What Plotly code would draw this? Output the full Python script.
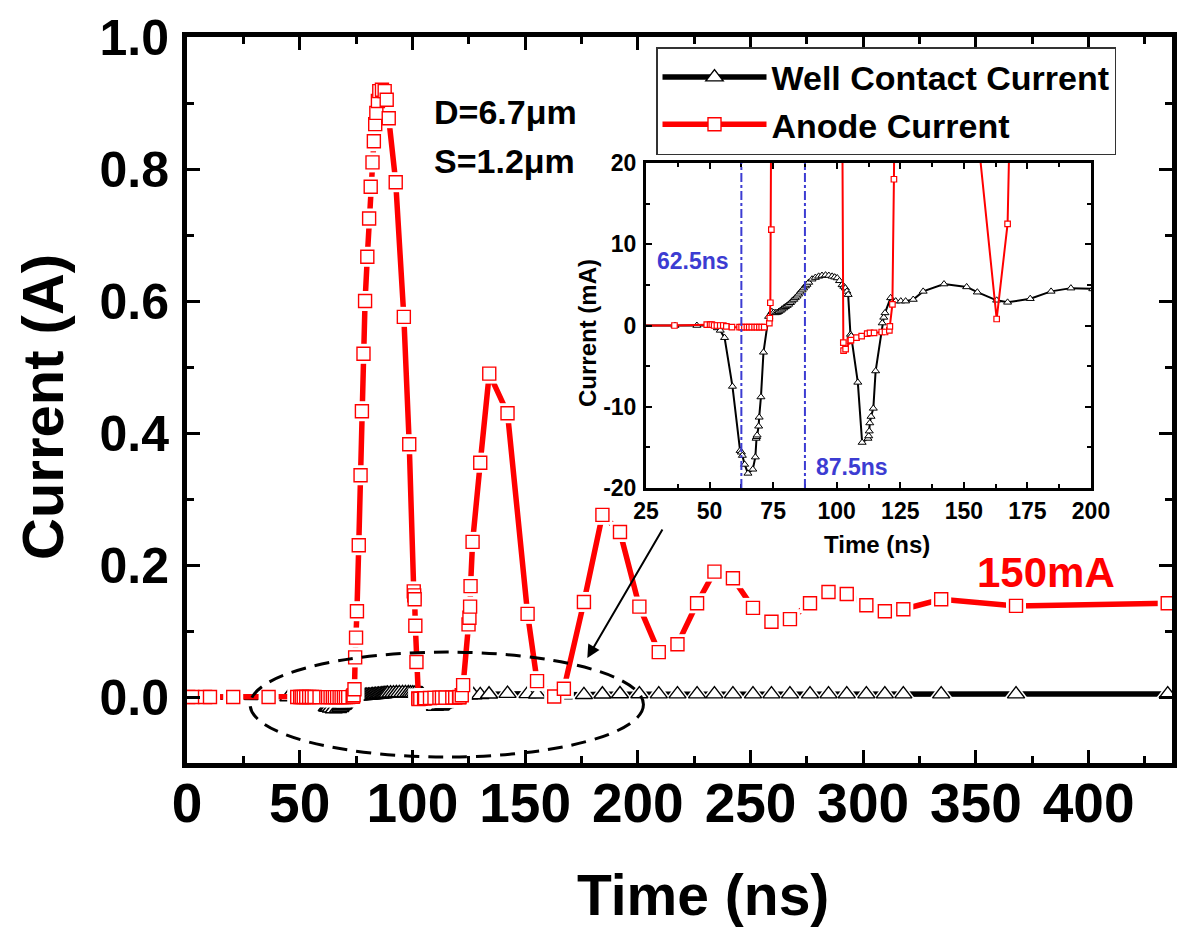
import plotly.graph_objects as go

# ---- data -------------------------------------------------------------
# Well contact current: time (ns), current (mA)
well_t = [0.5, 2.4, 8.0, 10.2, 20.5, 36.4, 45.0, 49.6, 50.4, 51.1, 51.8, 53.1, 54.2,
          55.9, 59.0, 62.0, 62.5, 62.9, 63.8, 65.1, 67.0, 68.0, 68.3, 68.5, 68.7,
          69.3, 69.5, 70.2, 71.2, 73.2, 74.5, 75.2, 75.9, 76.6, 77.2, 77.9, 78.5,
          79.2, 79.8, 80.5, 81.1, 81.8, 82.4, 83.1, 83.7, 84.4, 85.0, 85.7, 86.4,
          87.0, 87.7, 88.3, 89.0, 90.3, 91.6, 92.9, 94.2, 95.6, 96.9, 98.2, 99.2,
          100.2, 101.1, 102.1, 102.8, 103.4, 104.0, 104.5, 105.4, 105.7, 108.3,
          110.0, 112.3, 112.6, 112.8, 113.0, 113.5, 114.4, 115.3, 117.9, 118.5,
          119.0, 121.2, 123.2, 125.2, 127.1, 130.1, 134.0, 142.2, 151.1, 155.3,
          162.9, 167.2, 176.1, 184.3, 192.1, 200.7, 209.3, 217.6, 226.3, 234.0,
          242.2, 251.1, 259.3, 267.5, 276.4, 284.6, 292.7, 301.4, 309.6, 317.8,
          334.6, 367.8, 435.1]
well_ma = [0.0, 0.0, 0.0, 0.0, 0.0, 0.0, 0.0, 0.0, 0.0, 0.0, 0.0, -0.3, -0.6,
           -1.5, -7.5, -15.4, -15.6, -16.0, -17.1, -18.2, -17.7, -16.2, -13.9, -13.7, -13.5,
           -12.4, -11.3, -8.8, -3.3, 1.1, 1.7, 1.6, 1.55, 1.6, 1.7, 1.85, 2.0,
           2.15, 2.3, 2.45, 2.6, 2.8, 3.0, 3.2, 3.4, 3.6, 3.85, 4.1, 4.35,
           4.6, 4.85, 5.05, 5.3, 5.7, 5.9, 6.05, 6.15, 6.2, 6.15, 6.05, 5.95,
           5.85, 5.5, 5.0, 4.8, 4.6, 4.2, 3.8, -1.1, -1.3, -7.0,
           -14.4, -13.9, -13.6, -13.0, -12.0, -11.2, -10.2, -5.6, 0.3, 1.0,
           1.55, 3.4, 3.0, 3.0, 3.0, 3.2, 4.2, 5.1, 4.75, 4.1,
           3.1, 2.85, 3.3, 4.2, 4.6, 4.5, 4.4, 4.3, 4.3, 4.4,
           4.4, 4.3, 4.3, 4.3, 4.4, 4.4, 4.4, 4.3, 4.3, 4.3,
           4.4, 4.4, 4.4]

# Anode current: time (ns), current (mA)
anode_t = [0.5, 2.4, 8.0, 10.2, 20.5, 36.2, 48.9, 50.2, 50.9, 51.8, 52.9, 54.2, 55.4,
           56.6, 58.8, 61.8, 62.6, 63.7, 64.7, 65.6, 66.6, 67.7, 68.6, 69.6, 70.5,
           71.5, 73.5, 73.7, 73.9, 74.3, 74.6, 75.0, 75.4, 76.2, 77.0, 77.6, 78.3,
           79.0, 80.0, 80.8, 81.5, 82.3, 82.9, 83.5, 84.0, 84.7, 85.3, 86.5, 87.7,
           88.6, 89.5, 92.6, 96.2, 98.6, 100.6, 100.8, 101.0, 101.3, 101.8, 102.6,
           102.7, 103.5, 105.2, 105.6, 107.8, 109.8, 112.0, 113.1, 114.7, 117.7,
           119.0, 120.7, 120.9, 121.9, 122.5, 124.9, 125.3, 125.6, 125.8, 126.7,
           130.1, 134.1, 142.2, 151.1, 155.3, 162.9, 167.2, 176.1, 184.3, 192.1,
           200.7, 209.3, 217.6, 226.3, 234.0, 242.2, 251.1, 259.3, 267.5, 276.4,
           284.6, 292.7, 301.4, 309.6, 317.8, 334.6, 367.8, 435.1]
anode_ma = [0.0, 0.0, 0.0, 0.0, 0.0, 0.0, 0.1, 0.1, 0.1, 0.0, 0.0, 0.0, 0.0,
            -0.1, -0.2, -0.2, -0.2, -0.2, -0.2, -0.2, -0.2, -0.2, -0.2, -0.2, -0.2,
            -0.2, 0.3, 0.9, 2.8, 11.8, 60, 90, 130, 230, 336, 433, 520,
            600, 667, 725, 773, 810, 842, 868, 885, 903, 918, 920, 918,
            905, 877, 780, 576, 383, 160, 154, 148, 108, 53, -2.1,
            -3.1, -2.9, -1.9, -1.8, -1.5, -1.3, -1.0, -0.9, -0.9, -0.8,
            -0.8, -0.6, -0.1, 2.6, 18, 110, 120, 137, 168, 235,
            355, 490, 430, 126, 24, 0.8, 12.5, 144, 276, 250,
            137, 68, 80, 142, 190, 180, 135, 114, 118, 142,
            159, 156, 139, 130, 133, 148, 138, 142]

well_a = [v / 1000 for v in well_ma]
anode_a = [v / 1000 for v in anode_ma]

# ---- styling ------------------------------------------------------------
W, H = 1179, 928
FONT = "Liberation Sans, Arial, sans-serif"
RED = "#ff0000"
BLUE = "#3c3cd2"


def fx(p):
    return p / W


def fy(p):
    return 1 - p / H


def bold(size, color="black"):
    return dict(family=FONT, size=size, color=color, weight="bold")


fig = go.Figure()

# main panel: line + markers, a white halo to open gaps in the line, then the markers again
for t, y, name, color, sym, msize in [
    (well_t, well_a, "Well Contact Current", "black", "triangle-up", 15),
    (anode_t, anode_a, "Anode Current", RED, "square", 13),
]:
    fig.add_trace(go.Scatter(
        x=t, y=y, name=name, mode="lines+markers",
        line=dict(color=color, width=5.5),
        marker=dict(symbol=sym, size=msize, color="white", line=dict(color=color, width=1.4)),
        xaxis="x", yaxis="y"))
    fig.add_trace(go.Scatter(
        x=t, y=y, mode="markers", showlegend=False, hoverinfo="skip",
        marker=dict(symbol=sym, size=msize + 7, color="white", line=dict(width=0)),
        xaxis="x", yaxis="y"))
    fig.add_trace(go.Scatter(
        x=t, y=y, mode="markers", showlegend=False,
        marker=dict(symbol=sym, size=msize, color="white", line=dict(color=color, width=1.4)),
        xaxis="x", yaxis="y"))

# inset panel in mA
fig.add_trace(go.Scatter(
    x=well_t, y=well_ma, mode="lines+markers", showlegend=False,
    line=dict(color="black", width=2),
    marker=dict(symbol="triangle-up", size=7, color="white", line=dict(color="black", width=1)),
    xaxis="x2", yaxis="y2"))
fig.add_trace(go.Scatter(
    x=anode_t, y=anode_ma, mode="lines+markers", showlegend=False,
    line=dict(color=RED, width=2),
    marker=dict(symbol="square", size=5.5, color="white", line=dict(color=RED, width=1.2)),
    xaxis="x2", yaxis="y2"))

main_axis = dict(showline=True, linecolor="black", mirror="ticks", ticks="inside",
                 tickcolor="black", showgrid=False, zeroline=False, automargin=False)

fig.update_layout(
    width=W, height=H,
    margin=dict(l=0, r=0, t=0, b=0, autoexpand=False),
    paper_bgcolor="white", plot_bgcolor="white",
    xaxis=dict(main_axis, domain=[fx(187), fx(1172)], anchor="y", range=[0, 437],
               tick0=0, dtick=50, linewidth=5, ticklen=13, tickwidth=3,
               tickfont=bold(55), ticklabelstandoff=-12,
               minor=dict(dtick=25, ticks="inside", ticklen=7, tickwidth=3, tickcolor="black")),
    yaxis=dict(main_axis, domain=[fy(763), fy(37)], anchor="x", range=[-0.1, 1.0],
               tick0=0, dtick=0.2, tickformat=".1f", linewidth=5, ticklen=13, tickwidth=3,
               tickfont=bold(50), ticklabelstandoff=3,
               minor=dict(dtick=0.1, ticks="inside", ticklen=7, tickwidth=3, tickcolor="black")),
    xaxis2=dict(main_axis, domain=[fx(646), fx(1091)], anchor="y2", range=[25, 200],
                tick0=0, dtick=25, linewidth=3, ticklen=6, tickwidth=2,
                tickfont=bold(23), ticklabelstandoff=0,
                minor=dict(dtick=12.5, ticks="inside", ticklen=4, tickwidth=2, tickcolor="black")),
    yaxis2=dict(main_axis, domain=[fy(488), fy(163)], anchor="x2", range=[-20, 20],
                tickvals=[-20, -10, 0, 10, 20], ticktext=["-20", "-10", "0", "10", "20"],
                linewidth=3, ticklen=6, tickwidth=2, tickfont=bold(23), ticklabelstandoff=2,
                minor=dict(tickvals=[-15, -5, 5, 15], ticks="inside", ticklen=4, tickwidth=2,
                           tickcolor="black")),
    legend=dict(x=fx(656), y=fy(47), xanchor="left", yanchor="top",
                bgcolor="white", bordercolor="#333333", borderwidth=1.5,
                font=bold(34), itemwidth=104, tracegroupgap=0),
    showlegend=True,
)

# marked region and pointer toward the inset
fig.add_shape(type="circle", xref="x", yref="y", x0=28, x1=202.5, y0=-0.091, y1=0.068,
              line=dict(color="black", width=3, dash="15px,9px"), layer="above")
for tv in (62.5, 87.5):
    fig.add_shape(type="line", xref="x2", yref="y2", x0=tv, x1=tv, y0=-20, y1=20,
                  line=dict(color=BLUE, width=2, dash="dashdot"))
fig.add_annotation(x=177.6, y=0.059, xref="x", yref="y", ax=76, ay=-130, text="",
                   showarrow=True, arrowhead=2, arrowsize=1.3, arrowwidth=2, arrowcolor="black")

texts = [
    ("Time (ns)", 703, 895, 57, "black", 0, "center"),
    ("Current (A)", 42, 407, 58, "black", -90, "center"),
    ("Time (ns)", 877, 544, 24, "black", 0, "center"),
    ("Current (mA)", 587, 333, 24, "black", -90, "center"),
    ("D=6.7μm", 432, 112, 34, "black", 0, "left"),
    ("S=1.2μm", 432, 161, 34, "black", 0, "left"),
    ("150mA", 1046, 572, 42, RED, 0, "center"),
    ("62.5ns", 693, 261, 23, BLUE, 0, "center"),
    ("87.5ns", 852, 467, 23, BLUE, 0, "center"),
]
for txt, px, py, size, color, ang, anchor in texts:
    fig.add_annotation(x=fx(px), y=fy(py), xref="paper", yref="paper", text=txt,
                       showarrow=False, textangle=ang, font=bold(size, color),
                       xanchor=anchor, yanchor="middle")

fig.write_html("out.html")
